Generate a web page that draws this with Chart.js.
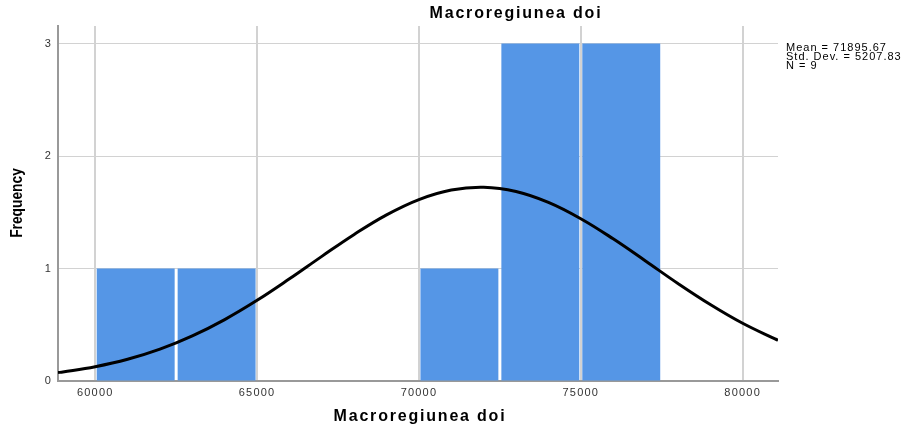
<!DOCTYPE html>
<html>
<head>
<meta charset="utf-8">
<script src="https://cdn.jsdelivr.net/npm/chart.js@4/dist/chart.umd.min.js"></script>
<style>
  html, body { margin: 0; padding: 0; background: #fff; }
</style>
</head>
<body>
<canvas id="histChart" width="907" height="431"></canvas>
<script>
// data
var binCenters = [61250, 63750, 66250, 68750, 71250, 73750, 76250];
var binCounts = [1, 1, 0, 0, 1, 3, 3];
var curveX = [58850, 59000, 60000, 61000, 62000, 63000, 64000, 65000, 66000, 67000, 68000, 69000, 70000,
  71000, 72000, 73000, 74000, 75000, 76000, 77000, 78000, 79000, 80000, 81000, 81092];
var curveY = [0.075, 0.080, 0.127, 0.193, 0.283, 0.401, 0.546, 0.717, 0.908, 1.108, 1.303, 1.477, 1.613,
  1.698, 1.723, 1.685, 1.588, 1.443, 1.264, 1.067, 0.867, 0.680, 0.513, 0.374, 0.363];
var xTicks = [60000, 65000, 70000, 75000, 80000];
var yTicks = [0, 1, 2, 3];
var statsLines = ["Mean = 71895.67", "Std. Dev. = 5207.83", "N = 9"];
var chartTitle = "Macroregiunea doi";
var xTitle = "Macroregiunea doi";
var yTitle = "Frequency";

//text plugin (titles + stats box)
var textPlugin = {
  id: "spssText",
  beforeDraw: function (chart) {
    // SPSS text is spaced wider than canvas text
    chart.ctx.letterSpacing = "1.2px";
  },
  afterDraw: function (chart) {
    var ctx = chart.ctx;
    var area = chart.chartArea;
    ctx.save();
    ctx.fillStyle = "#000";
    ctx.textBaseline = "middle";
    ctx.textAlign = "center";
    ctx.letterSpacing = "1.8px";
    ctx.font = "bold 16px 'Liberation Sans', Arial, sans-serif";
    ctx.fillText(chartTitle, 516, 14);
    ctx.fillText(xTitle, 420, 417);

    ctx.save();
    ctx.translate(18, 203);
    ctx.rotate(-Math.PI / 2);
    ctx.scale(0.86, 1);
    ctx.letterSpacing = "0px";
    ctx.font = "bold 16px 'Liberation Sans', Arial, sans-serif";
    ctx.fillText(yTitle, 0, 0);
    ctx.restore();

    ctx.textAlign = "left";
    ctx.letterSpacing = "1px";
    ctx.font = "11px 'Liberation Sans', Arial, sans-serif";
    statsLines.forEach(function (t, i) {
      ctx.fillText(t, 786, 48 + i * 9);
    });
    ctx.restore();
  }
};

var ctxH = document.getElementById("histChart").getContext("2d");
var histChart = new Chart(ctxH, {
  type: "bar",
  data: {
    datasets: [
      {
        type: "line",
        data: curveX.map(function (x, i) {
          return { x: x, y: curveY[i] };
        }),
        borderColor: "#000",
        borderWidth: 3,
        pointRadius: 0,
        tension: 0.4,
        fill: false,
        order: 0
      },
      {
        type: "bar",
        data: binCenters.map(function (x, i) {
          return { x: x, y: binCounts[i] };
        }),
        backgroundColor: "#5596e6",
        borderWidth: 0,
        barPercentage: 0.963,
        categoryPercentage: 1,
        order: 1
      }
    ]
  },
  options: {
    responsive: false,
    animation: false,
    devicePixelRatio: 1,
    layout: { padding: { top: 26, right: 129, bottom: 0, left: 0 } },
    plugins: {
      legend: { display: false },
      tooltip: { enabled: false }
    },
    scales: {
      x: {
        type: "linear",
        min: 58850,
        max: 81092,
        offset: false,
        afterFit: function (scale) {
          scale.height = 50;
        },
        afterBuildTicks: function (scale) {
          scale.ticks = xTicks.map(function (v) {
            return { value: v };
          });
        },
        ticks: {
          padding: 5,
          color: "#333",
          autoSkip: false,
          font: { family: "'Liberation Sans', Arial, sans-serif", size: 11 },
          callback: function (v) {
            return String(v);
          },
          maxRotation: 0
        },
        grid: { color: "#d2d2d2", lineWidth: 2, drawTicks: false, offset: false },
        border: { color: "#999", width: 2 }
      },
      y: {
        min: 0,
        max: 3.156,
        afterFit: function (scale) {
          scale.width = 58;
        },
        afterBuildTicks: function (scale) {
          scale.ticks = yTicks.map(function (v) {
            return { value: v };
          });
        },
        ticks: {
          padding: 6,
          color: "#333",
          autoSkip: false,
          font: { family: "'Liberation Sans', Arial, sans-serif", size: 11 }
        },
        grid: { color: "#d2d2d2", lineWidth: 1, drawTicks: false },
        border: { color: "#999", width: 2 }
      }
    }
  },
  plugins: [textPlugin]
});
</script>
</body>
</html>
